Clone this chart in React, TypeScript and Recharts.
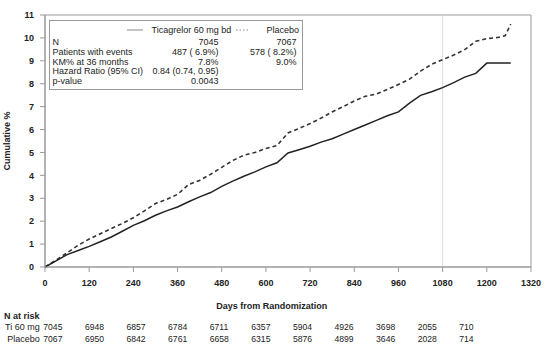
import { LineChart, Line, XAxis, YAxis, ReferenceArea, ReferenceLine } from "recharts";

// Days from randomization where the curves were read
const days = [
  0, 30, 60, 90, 120, 150, 180, 210, 240, 270, 300, 330, 360, 390, 420, 450, 480, 510, 540, 570, 600,
  630, 660, 690, 720, 750, 780, 810, 840, 870, 900, 930, 960, 990, 1020, 1050, 1080, 1110, 1140, 1170,
  1200, 1230, 1250, 1265,
];

// Cumulative % (KM)
const ticagrelor = [
  0, 0.27, 0.54, 0.72, 0.9, 1.1, 1.31, 1.56, 1.82, 2.02, 2.26, 2.45, 2.62, 2.85, 3.06, 3.25, 3.52, 3.75,
  3.96, 4.15, 4.37, 4.55, 4.98, 5.12, 5.27, 5.45, 5.6, 5.8, 6.0, 6.2, 6.4, 6.6, 6.77, 7.15, 7.49, 7.65,
  7.83, 8.05, 8.29, 8.45, 8.9, 8.9, 8.9, 8.9,
];
const placebo = [
  0, 0.3, 0.62, 0.95, 1.22, 1.45, 1.68, 1.9, 2.15, 2.45, 2.77, 2.95, 3.17, 3.6, 3.78, 4.05, 4.35, 4.65,
  4.88, 5.0, 5.17, 5.3, 5.85, 6.05, 6.26, 6.5, 6.77, 7.0, 7.25, 7.45, 7.55, 7.75, 7.97, 8.2, 8.55, 8.85,
  9.05, 9.25, 9.49, 9.85, 9.97, 10.02, 10.1, 10.6,
];

const xTicks = [0, 120, 240, 360, 480, 600, 720, 840, 960, 1080, 1200, 1320];
const yTicks = [0, 1, 2, 3, 4, 5, 6, 7, 8, 9, 10, 11];

const riskTi = ["7045", "6948", "6857", "6784", "6711", "6357", "5904", "4926", "3698", "2055", "710"];
const riskPl = ["7067", "6950", "6842", "6761", "6658", "6315", "5876", "4899", "3646", "2028", "714"];

const statRows = [
  { label: "N", ti: "7045", pl: "7067" },
  { label: "Patients with events", ti: "487 ( 6.9%)", pl: "578 ( 8.2%)" },
  { label: "KM% at 36 months", ti: "7.8%", pl: "9.0%" },
  { label: "Hazard Ratio (95% CI)", ti: "0.84 (0.74, 0.95)", pl: "" },
  { label: "p-value", ti: "0.0043", pl: "" },
];

const data = days.map((d, i) => ({ day: d, ti: ticagrelor[i], pl: placebo[i] }));

const FONT = "'Liberation Sans', Arial, sans-serif";
const tickStyle = { fontSize: 9, fontWeight: 700, fill: "#222", fontFamily: FONT };

export default function App() {
  return (
    <div style={{ position: "relative", width: 554, height: 356, background: "#fff" }}>
      <style>{`body{margin:0}`}</style>
      <LineChart width={554} height={356} data={data} margin={{ top: 15, right: 23, left: 8, bottom: 69 }}>
        <XAxis
          dataKey="day"
          type="number"
          domain={[0, 1320]}
          ticks={xTicks}
          tick={tickStyle}
          tickSize={5}
          tickMargin={8}
          height={20}
          stroke="#999"
        />
        <YAxis
          type="number"
          domain={[0, 11]}
          ticks={yTicks}
          tick={tickStyle}
          tickSize={5}
          tickMargin={6}
          width={37}
          stroke="#999"
          label={{
            content: () => (
              <text
                x={10}
                y={141}
                transform="rotate(-90 10 141)"
                textAnchor="middle"
                style={{ fontSize: 9, fontWeight: 700, fontFamily: FONT, fill: "#222" }}
              >
                Cumulative %
              </text>
            ),
          }}
        />
        <ReferenceArea x1={0} x2={1320} y1={0} y2={11} fill="none" stroke="#999" strokeWidth={1} />
        <ReferenceLine x={1080} stroke="#ddd" strokeWidth={1} />
        <Line dataKey="pl" type="linear" stroke="#333" strokeWidth={1.6} strokeDasharray="4 3" dot={false} isAnimationActive={false} />
        <Line dataKey="ti" type="linear" stroke="#222" strokeWidth={1.5} dot={false} isAnimationActive={false} />
      </LineChart>

      <svg
        width={554}
        height={356}
        style={{ position: "absolute", left: 0, top: 0, pointerEvents: "none", fontFamily: FONT, fontSize: 9 }}
      >
        <rect x={49.5} y={20.5} width={253} height={69} fill="#fff" stroke="#999" />
        <line x1={127} x2={143} y1={30} y2={30} stroke="#888" strokeWidth={1} />
        <text x={151.5} y={33} fill="#222">Ticagrelor 60 mg bd</text>
        <line x1={236} x2={248} y1={30} y2={30} stroke="#888" strokeWidth={1} strokeDasharray="1.5 2" />
        <text x={299} y={33} textAnchor="end" fill="#222">Placebo</text>
        {statRows.map((r, i) => {
          const y = [45, 55, 65, 74.3, 83.5][i];
          return (
            <g key={r.label}>
              <text x={52.5} y={y} fill="#222">{r.label}</text>
              <text x={218.5} y={y} textAnchor="end" fill="#222">{r.ti}</text>
              {r.pl && (
                <text x={296.5} y={y} textAnchor="end" fill="#222">{r.pl}</text>
              )}
            </g>
          );
        })}

        <text x={271.7} y={309} textAnchor="middle" fontWeight={700} fill="#222">Days from Randomization</text>

        <text x={4} y={319} fontWeight={700} fill="#222">N at risk</text>
        <text x={5} y={330} fill="#222">Ti 60 mg</text>
        <text x={7.3} y={342.3} fill="#222">Placebo</text>
        {riskTi.map((v, i) => (
          <text key={"t" + i} x={43.3 + i * 41.6} y={330} fill="#222" fontSize={8.6}>{v}</text>
        ))}
        {riskPl.map((v, i) => (
          <text key={"p" + i} x={43.3 + i * 41.6} y={342.3} fill="#222" fontSize={8.6}>{v}</text>
        ))}
      </svg>
    </div>
  );
}
